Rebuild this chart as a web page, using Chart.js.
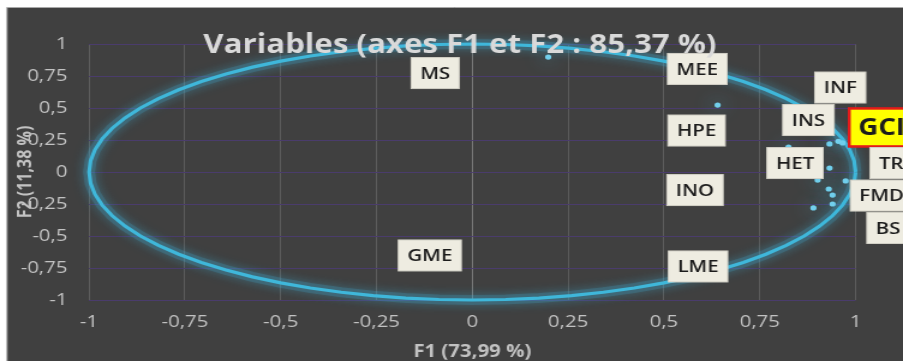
<!DOCTYPE html>
<html>
<head>
<meta charset="utf-8">
<script src="https://cdn.jsdelivr.net/npm/chart.js@4.4.0/dist/chart.umd.min.js"></script>
<style>
  html, body { margin: 0; padding: 0; background: #ffffff; overflow: hidden; }
  #c { display: block; }
</style>
</head>
<body>
<canvas id="c" width="752" height="361" style="width:903px;height:361px"></canvas>
<script>
// Variables projected on the first factorial plane
const variables = ['MS', 'MEE', 'HET', 'INS', 'GCI', 'INF', 'HPE', 'INO', 'TR', 'FMD', 'GME', 'BS', 'LME'];
const f1 = [0.198, 0.640, 0.825, 0.932, 0.966, 0.955, 0.932, 0.901, 0.974, 0.930, 0.940, 0.940, 0.890];
const f2 = [0.898, 0.523, 0.195, 0.219, 0.227, 0.240, 0.031, -0.063, -0.070, -0.133, -0.180, -0.250, -0.281];

// Where each variable's name tag sits, in F1/F2 units
const tagF1 = [-0.097, 0.587, 0.842, 0.877, 1.068, 0.960, 0.585, 0.581, 1.093, 1.068, -0.111, 1.085, 0.589];
const tagF2 = [0.773, 0.805, 0.070, 0.406, 0.348, 0.660, 0.324, -0.141, 0.070, -0.184, -0.652, -0.4375, -0.738];
const highlighted = 'GCI';

const tickValues = [-1, -0.75, -0.5, -0.25, 0, 0.25, 0.5, 0.75, 1];
const tickLabels = ['-1', '-0,75', '-0,5', '-0,25', '0', '0,25', '0,5', '0,75', '1'];

const chartTitle = 'Variables (axes F1 et F2 : 85,37 %)';
const xTitle = 'F1 (73,99 %)';
const yTitle = 'F2 (11,38 %)';

// Correlation circle of radius 1
const unitCircle = [];
for (let a = 0; a <= 360; a += 5) {
  const r = a * Math.PI / 180;
  unitCircle.push({ x: Math.cos(r), y: Math.sin(r) });
}

const points = variables.map((v, i) => ({ x: f1[i], y: f2[i] }));

const FONT = '"Open Sans", "DejaVu Sans", sans-serif';
const TICK_COLOR = '#c2c2c2';

const frame = {
  id: 'frame',
  beforeDraw(chart) {
    const { ctx, width, height } = chart;
    ctx.save();
    ctx.fillStyle = '#ffffff';
    ctx.fillRect(0, 0, width, height);
    ctx.fillStyle = '#404040';
    ctx.fillRect(5.8, 7, width, height);
    ctx.strokeStyle = '#a8a8a8';
    ctx.lineWidth = 1;
    ctx.beginPath();
    ctx.moveTo(5.8, height);
    ctx.lineTo(5.8, 7.5);
    ctx.lineTo(width, 7.5);
    ctx.stroke();
    ctx.restore();
  }
};

// soft halo around the circle and the variable points
const glow = {
  id: 'glow',
  beforeDatasetDraw(chart, args) {
    const ds = chart.data.datasets[args.index];
    chart.ctx.save();
    chart.ctx.shadowColor = ds.glowColor;
    chart.ctx.shadowBlur = ds.glowBlur;
  },
  afterDatasetDraw(chart) {
    chart.ctx.restore();
  }
};

const tags = {
  id: 'tags',
  afterDatasetsDraw(chart) {
    const { ctx, scales: { x, y } } = chart;
    ctx.save();
    variables.forEach((name, i) => {
      const cx = x.getPixelForValue(tagF1[i]);
      const cy = y.getPixelForValue(tagF2[i]);
      const hot = name === highlighted;
      ctx.font = (hot ? 'bold 23px ' : '600 17px ') + FONT;
      const w = ctx.measureText(name).width + 15;
      const h = hot ? 38 : 31;
      ctx.fillStyle = hot ? '#ffff00' : '#eeece1';
      ctx.fillRect(cx - w / 2, cy - h / 2, w, h);
      ctx.lineWidth = hot ? 2.5 : 1;
      ctx.strokeStyle = hot ? '#e41a1a' : '#d2d0c6';
      ctx.strokeRect(cx - w / 2, cy - h / 2, w, h);
      ctx.fillStyle = '#1c1c1c';
      ctx.textAlign = 'center';
      ctx.textBaseline = 'middle';
      ctx.fillText(name, cx, cy + 1);
    });
    ctx.restore();
  }
};

const heading = {
  id: 'heading',
  afterDraw(chart) {
    const { ctx } = chart;
    ctx.save();
    ctx.font = 'bold 26px ' + FONT;
    ctx.fillStyle = '#d9d9d9';
    ctx.textAlign = 'center';
    ctx.textBaseline = 'alphabetic';
    ctx.fillText(chartTitle, 383, 53);
    ctx.restore();
  }
};

new Chart(document.getElementById('c'), {
  type: 'scatter',
  data: {
    datasets: [
      {
        data: points,
        pointRadius: 2.6,
        pointHoverRadius: 2.6,
        pointBackgroundColor: '#72cfec',
        pointBorderWidth: 0,
        showLine: false,
        glowColor: 'rgba(70,190,230,1)',
        glowBlur: 16
      },
      {
        data: unitCircle,
        showLine: true,
        borderColor: '#3fb7da',
        borderWidth: 3.2,
        pointRadius: 0,
        tension: 0,
        clip: false,
        glowColor: 'rgba(60,180,220,0.8)',
        glowBlur: 12
      },
      {
        // wide translucent stroke under the circle for its halo
        data: unitCircle,
        showLine: true,
        borderColor: 'rgba(70,170,205,0.22)',
        borderWidth: 10,
        pointRadius: 0,
        tension: 0,
        clip: false,
        glowColor: 'rgba(60,170,210,0.5)',
        glowBlur: 10
      }
    ]
  },
  plugins: [frame, glow, tags, heading],
  options: {
    responsive: false,
    animation: false,
    devicePixelRatio: 1,
    layout: { padding: { left: 0, top: 44, right: 39.5, bottom: 0 } },
    plugins: {
      legend: { display: false },
      title: { display: false },
      tooltip: { enabled: false }
    },
    scales: {
      x: {
        type: 'linear',
        min: -1,
        max: 1,
        afterBuildTicks: s => { s.ticks = tickValues.map(v => ({ value: v })); },
        afterFit: s => { s.height = 61; },
        ticks: {
          color: TICK_COLOR,
          font: { family: FONT, size: 17 },
          padding: 12,
          maxRotation: 0,
          callback: (v, i) => tickLabels[i]
        },
        grid: {
          color: c => (c.tick && c.tick.value === 0) ? '#7a7a7a' : '#5c5c5c',
          lineWidth: 1,
          drawTicks: false
        },
        border: { display: false },
        title: {
          display: true,
          text: xTitle,
          color: TICK_COLOR,
          font: { family: FONT, size: 17, weight: 'bold' },
          padding: { top: 0, bottom: -1 }
        }
      },
      y: {
        type: 'linear',
        min: -1,
        max: 1,
        afterBuildTicks: s => { s.ticks = tickValues.map(v => ({ value: v })); },
        afterFit: s => { s.width = 74.2; },
        ticks: {
          color: TICK_COLOR,
          font: { family: FONT, size: 17 },
          padding: 18,
          callback: (v, i) => tickLabels[i]
        },
        grid: {
          color: '#4a3c6c',
          lineWidth: 1,
          drawTicks: false
        },
        border: { display: false },
        title: {
          display: true,
          text: yTitle,
          color: TICK_COLOR,
          font: { family: FONT, size: 16, weight: 'bold' },
          padding: { top: 12, bottom: 0 }
        }
      }
    }
  }
});
</script>
</body>
</html>
